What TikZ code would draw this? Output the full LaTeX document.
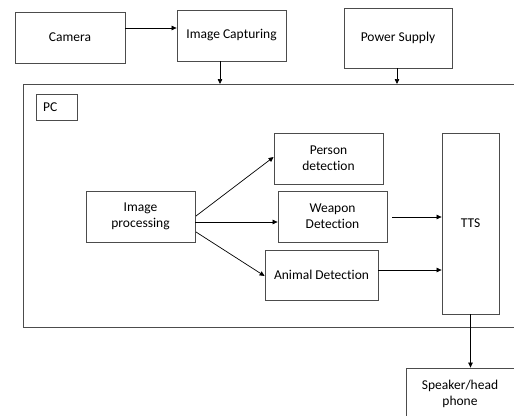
\documentclass[tikz,border=0pt]{standalone}
\usepackage{fontspec}
\setmainfont{Carlito}[RawFeature={-liga;-dlig;-clig}]
\usetikzlibrary{arrows.meta,calc}
\begin{document}
\begin{tikzpicture}[x=1pt,y=-1pt,
  blk/.style={draw=black!70,line width=0.8pt,fill=white,align=center,
    inner sep=0pt,font=\fontsize{13.5}{16}\selectfont},
  arr/.style={draw=black,line width=0.7pt,-{Triangle[length=5pt,width=4.5pt]}}]
\useasboundingbox (0,0) rectangle (514,415);

% outer PC container (runs past the right edge)
\node[blk,minimum width=499pt,minimum height=243pt,anchor=north west] (pc) at (23,84) {};
\node[blk,minimum width=41pt,minimum height=26pt,anchor=north west] (pclbl) at (36,94) {};
\node[anchor=west,font=\fontsize{13.5}{16}\selectfont,inner sep=0pt] (pctext) at (43,107) {PC};

% top row
\node[blk,minimum width=110pt,minimum height=51pt] (cam) at (70,37.5) {Camera};
\node[blk,minimum width=109pt,minimum height=51pt] (cap) at (231.5,35.5) {Image Capturing};
\node[blk,minimum width=108pt,minimum height=60pt] (pow) at (398,38) {Power Supply};

% inside PC
\node[blk,minimum width=109pt,minimum height=51pt] (proc) at (140.5,216.5) {Image\\processing};
\node[blk,minimum width=109pt,minimum height=51pt] (person) at (328.5,158.5) {Person\\detection};
\node[blk,minimum width=109pt,minimum height=51pt] (weapon) at (332.5,216.5) {Weapon\\Detection};
\node[blk,minimum width=113pt,minimum height=50pt] (animal) at (321.5,275) {Animal Detection};
\node[blk,minimum width=57pt,minimum height=181pt] (tts) at (470.5,223.5) {TTS};

% output
\node[blk,minimum width=108pt,minimum height=51pt] (spk) at (460,393.5) {Speaker/head\\phone};

% free ends of connectors
\coordinate (capout) at (220,61);
\coordinate (weapout) at (392,217);

% connectors
\draw[arr] (cam.east |- 0,28) -- (cap.west |- 0,28);
\draw[arr] (capout) -- (capout |- pc.north);
\draw[arr] (pow.south -| 397,0) -- (pc.north -| 397,0);
\draw[arr] (196,216) -- (person.west |- 0,157);
\draw[arr] (proc.east |- 0,222) -- (weapon.west |- 0,222);
\draw[arr] (196,232) -- (animal.west |- 0,276);
\draw[arr] (weapout) -- (tts.west |- weapout);
\draw[arr] (animal.east |- 0,270) -- (tts.west |- 0,270);
\draw[arr] (tts.south) -- (spk.north -| tts.south);
\end{tikzpicture}
\end{document}
